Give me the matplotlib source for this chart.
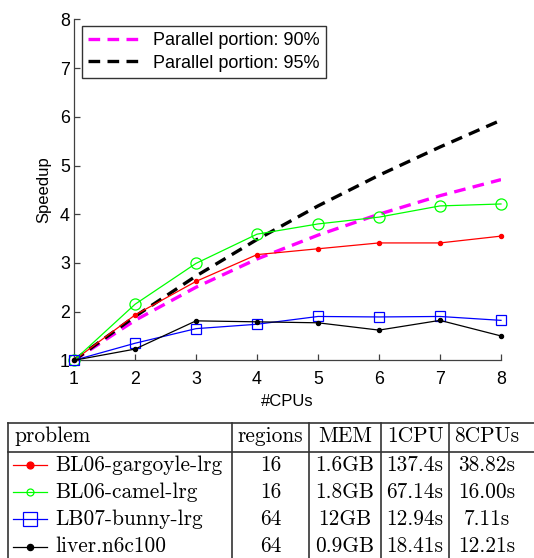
import matplotlib
matplotlib.use("Agg")
import matplotlib.pyplot as plt

cpus = [1, 2, 3, 4, 5, 6, 7, 8]
amdahl_90 = [1.0, 1.82, 2.50, 3.08, 3.57, 4.00, 4.38, 4.71]
amdahl_95 = [1.0, 1.90, 2.73, 3.48, 4.17, 4.80, 5.38, 5.93]
gargoyle = [1.0, 1.93, 2.62, 3.17, 3.29, 3.41, 3.41, 3.55]
camel = [1.0, 2.15, 2.99, 3.59, 3.80, 3.94, 4.17, 4.21]
bunny = [1.0, 1.35, 1.65, 1.74, 1.90, 1.89, 1.90, 1.82]
liver = [1.0, 1.23, 1.81, 1.79, 1.77, 1.62, 1.82, 1.50]

table_header = ["problem", "regions", "MEM", "1CPU", "8CPUs"]
problems = ["BL06-gargoyle-lrg", "BL06-camel-lrg", "LB07-bunny-lrg", "liver.n6c100"]
regions = ["16", "16", "64", "64"]
mem = ["1.6GB", "1.8GB", "12GB", "0.9GB"]
t1cpu = ["137.4s", "67.14s", "12.94s", "18.41s"]
t8cpu = ["38.82s", "16.00s", "7.11s", "12.21s"]

W, H = 534, 558
fig = plt.figure(figsize=(W / 100, H / 100), dpi=100)
sans = ["Liberation Sans", "DejaVu Sans"]
GREEN = "#00ff00"

ax = fig.add_axes([74 / W, 1 - 360.3 / H, 427 / W, (360.3 - 19.4) / H])
l90, = ax.plot(cpus, amdahl_90, color="#ff00ff", lw=2.4, dashes=(3.5, 2.2),
               label="Parallel portion: 90%", zorder=2)
l95, = ax.plot(cpus, amdahl_95, color="black", lw=2.4, dashes=(3.5, 2.2),
               label="Parallel portion: 95%", zorder=2)

series = [
    (gargoyle, "red", ".", 6, "red"),
    (camel, GREEN, "o", 8, "none"),
    (bunny, "blue", "s", 7, "none"),
    (liver, "black", ".", 6, "black"),
]
for vals, c, m, ms, fc in series:
    ax.plot(cpus, vals, color=c, lw=0.9, marker=m, ms=ms, mfc=fc, mec=c,
            mew=0.9, clip_on=False, zorder=3)

ax.set_xlim(1, 8)
ax.set_ylim(1, 8)
ax.set_xticks(cpus)
ax.set_yticks(range(1, 9))
for s in ["top", "right"]:
    ax.spines[s].set_visible(False)
for s in ["left", "bottom"]:
    ax.spines[s].set_color("#404040")
    ax.spines[s].set_linewidth(0.9)
ax.tick_params(direction="in", length=4, width=0.9, color="#404040",
               labelsize=12.8)
ax.tick_params(axis="x", pad=8)
ax.tick_params(axis="y", pad=3)
for lab in ax.get_xticklabels() + ax.get_yticklabels():
    lab.set_family(sans)
ax.set_xlabel("#CPUs", fontsize=12, family=sans, labelpad=4)
ax.set_ylabel("Speedup", fontsize=12, family=sans, labelpad=6)
ax.patch.set_alpha(0)

leg = ax.legend(handles=[l90, l95], loc="upper left",
                bbox_to_anchor=(8 / 427, 1 - 6.6 / 341), prop={"family": sans, "size": 13},
                frameon=True, fancybox=False, edgecolor="black", handlelength=3.0,
                handletextpad=0.6, borderpad=0.35, labelspacing=0.3, borderaxespad=0)
leg.get_frame().set_linewidth(1.0)

# table
tax = fig.add_axes([0, 0, 1, 1], zorder=-1)
tax.set_xlim(0, W)
tax.set_ylim(H, 0)
tax.axis("off")
lc = "#333333"
top, hdr = 422.7, 451.7
tax.plot([8, W], [top, top], color=lc, lw=1.2)
tax.plot([8, W], [hdr, hdr], color=lc, lw=1.2)
for xv in [8, 232, 309, 381, 449]:
    tax.plot([xv, xv], [top, H], color=lc, lw=1.2)

serif = ["cmr10", "DejaVu Serif"]
fs = 15.4
col_cx = [None, 270.5, 345, 415, 487]
row_y = [465, 492, 519, 546.5]
tax.text(14, 436, table_header[0], family=serif, fontsize=fs, ha="left", va="center")
for j in range(1, 5):
    tax.text(col_cx[j], 436, table_header[j], family=serif, fontsize=fs,
             ha="center", va="center")
tbl_markers = [("red", "o", 5, "red"), (GREEN, "o", 5, "none"),
               ("blue", "s", 10, "none"), ("black", "o", 4.5, "black")]
for i in range(4):
    y = row_y[i]
    c, m, ms, fc = tbl_markers[i]
    tax.plot([13, 47], [y, y], color=c, lw=0.9)
    tax.plot([30], [y], marker=m, ms=ms, color=c, mfc=fc, mec=c, mew=0.9)
    tax.text(55, y, problems[i], family=serif, fontsize=fs, ha="left", va="center")
    for j, col in zip(range(1, 5), [regions, mem, t1cpu, t8cpu]):
        tax.text(col_cx[j], y, col[i], family=serif, fontsize=fs, ha="center", va="center")

fig.savefig("out.png", dpi=100)
